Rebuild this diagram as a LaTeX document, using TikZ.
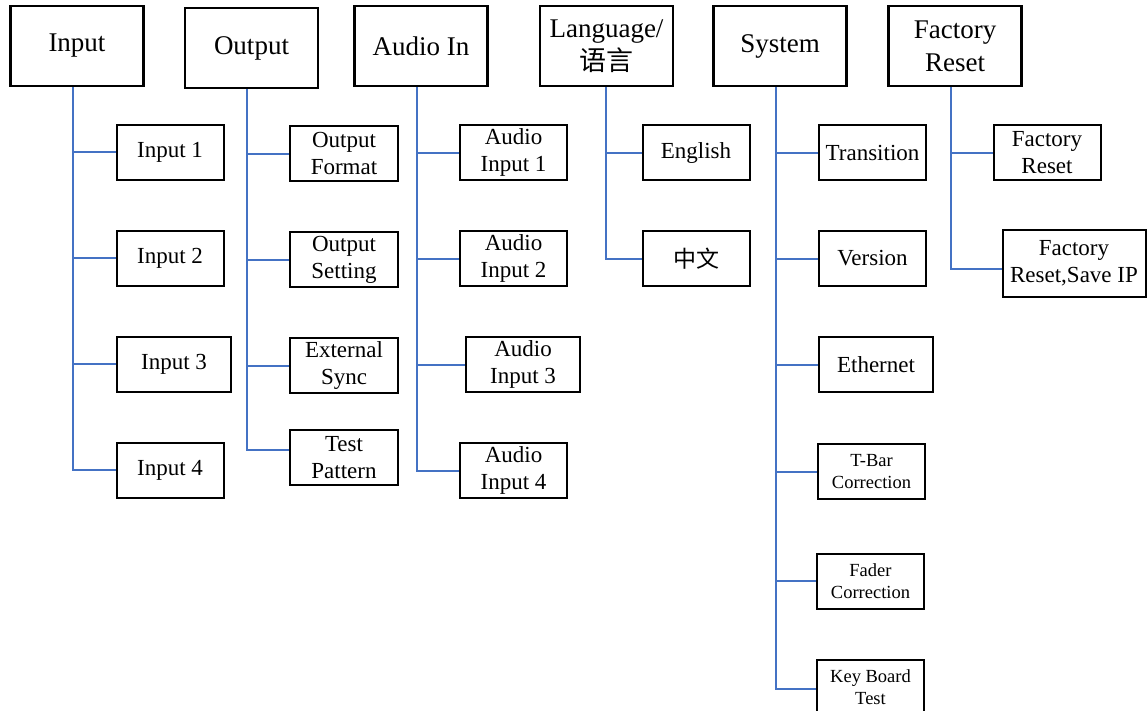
\documentclass[tikz,border=0pt]{standalone}
\usepackage{fontspec}
\setmainfont{Liberation Serif}
\newfontfamily\cjk{Noto Sans CJK SC}
\usepackage{tikz}
\usetikzlibrary{positioning}
\definecolor{linkblue}{RGB}{68,114,196}
\tikzstyle{head} = [rectangle, minimum width=133pt, minimum height=80pt, inner sep=1pt, text centered, align=center, draw=black, line width=2.2pt, font=\fontsize{27}{33}\selectfont]
\tikzstyle{entry} = [rectangle, minimum width=107pt, minimum height=55pt, inner sep=1pt, text centered, align=center, draw=black, line width=2pt, font=\fontsize{23}{27}\selectfont]
\tikzstyle{entrysmall} = [entry, font=\fontsize{18.5}{22}\selectfont]
\tikzstyle{link} = [line width=2pt, draw=linkblue]

\begin{document}
\begin{tikzpicture}[x=1pt, y=-1pt, node distance=106pt]
        \useasboundingbox (0,0) rectangle (1147,710);
        % top menu
        \node (inp) [head] at (77,46) {Input};
        \node (outp) [head] at (251.5,48) {Output};
        \node (aud) [head] at (421,46) {Audio In};
        \node (lang) [head] at (606.5,46) {Language/\\{\cjk 语言}};
        \node (sys) [head] at (780,46) {System};
        \node (fac) [head] at (955,46) {Factory\\Reset};
        % input
        \node (inp1) [entry] at (170,152) {Input 1};
        \node (inp2) [entry, below of=inp1] {Input 2};
        \node (inp3) [entry, below of=inp2, xshift=4pt, minimum width=114pt] {Input 3};
        \node (inp4) [entry, below of=inp3, xshift=-4pt] {Input 4};
        % output
        \node (out1) [entry, minimum width=108pt] at (344,153.5) {Output\\Format};
        \node (out2) [entry, minimum width=108pt, below of=out1] {Output\\Setting};
        \node (out3) [entry, minimum width=108pt, below of=out2] {External\\Sync};
        \node (out4) [entry, minimum width=108pt, below of=out3, yshift=14pt] {Test\\Pattern};
        % audio
        \node (aud1) [entry] at (513.5,152.5) {Audio\\Input 1};
        \node (aud2) [entry, below of=aud1] {Audio\\Input 2};
        \node (aud3) [entry, below of=aud2, xshift=9.5pt, minimum width=114pt] {Audio\\Input 3};
        \node (aud4) [entry, below of=aud3, xshift=-9.5pt] {Audio\\Input 4};
        % language
        \node (lang1) [entry] at (696,152.5) {English};
        \node (lang2) [entry, below of=lang1] {\cjk 中文};
        % system
        \node (sys1) [entry] at (872.5,152.5) {Transition};
        \node (sys2) [entry, below of=sys1] {Version};
        \node (sys3) [entry, below of=sys2, xshift=3.5pt, minimum width=114pt] {Ethernet};
        \node (sys4) [entrysmall, below of=sys3, xshift=-4.5pt, yshift=-1pt] {T-Bar\\Correction};
        \node (sys5) [entrysmall, below of=sys4, xshift=-1pt, yshift=-3.5pt] {Fader\\Correction};
        \node (sys6) [entrysmall, below of=sys5] {Key Board\\Test};
        % factory reset
        \node (fac1) [entry] at (1047,152.5) {Factory\\Reset};
        \node (fac2) [entry, minimum width=143pt, minimum height=67pt] at (1074,263.5) {Factory\\Reset,Save IP};

        \draw [link] ([xshift=-4pt]inp.south) |- (inp1.west);
        \draw [link] ([xshift=-4pt]inp.south) |- (inp2.west);
        \draw [link] ([xshift=-4pt]inp.south) |- (inp3.west);
        \draw [link] ([xshift=-4pt]inp.south) |- (inp4.west);
        \draw [link] ([xshift=-4.5pt]outp.south) |- (out1.west);
        \draw [link] ([xshift=-4.5pt]outp.south) |- (out2.west);
        \draw [link] ([xshift=-4.5pt]outp.south) |- (out3.west);
        \draw [link] ([xshift=-4.5pt]outp.south) |- ([yshift=8pt]out4.west);
        \draw [link] ([xshift=-4pt]aud.south) |- (aud1.west);
        \draw [link] ([xshift=-4pt]aud.south) |- (aud2.west);
        \draw [link] ([xshift=-4pt]aud.south) |- (aud3.west);
        \draw [link] ([xshift=-4pt]aud.south) |- (aud4.west);
        \draw [link] ([xshift=-0.5pt]lang.south) |- (lang1.west);
        \draw [link] ([xshift=-0.5pt]lang.south) |- (lang2.west);
        \draw [link] ([xshift=-4pt]sys.south) |- (sys1.west);
        \draw [link] ([xshift=-4pt]sys.south) |- (sys2.west);
        \draw [link] ([xshift=-4pt]sys.south) |- (sys3.west);
        \draw [link] ([xshift=-4pt]sys.south) |- (sys4.west);
        \draw [link] ([xshift=-4pt]sys.south) |- (sys5.west);
        \draw [link] ([xshift=-4pt]sys.south) |- ([yshift=-2pt]sys6.west);
        \draw [link] ([xshift=-4pt]fac.south) |- (fac1.west);
        \draw [link] ([xshift=-4pt]fac.south) |- ([yshift=-5pt]fac2.west);

      \end{tikzpicture}
\end{document}
